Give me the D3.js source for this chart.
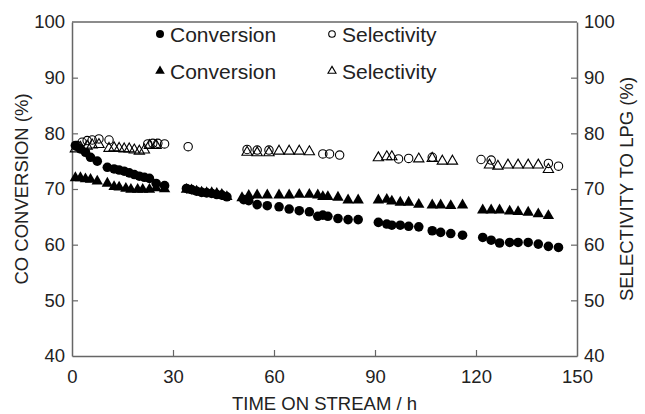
<!DOCTYPE html>
<html>
<head>
<meta charset="utf-8">
<script src="https://cdn.jsdelivr.net/npm/d3@7"></script>
<style>
  body { margin: 0; background: #fff; }
  text { font-family: "Liberation Sans", Arial, sans-serif; fill: #222; }
</style>
</head>
<body>
<svg id="chart"></svg>
<script>
var width = 645,
    height = 414,
    margin = {top: 22, right: 68, bottom: 58, left: 72};

// conversion, circles
var convCircleH = [1, 2.5, 4, 5.5, 7.5, 10.5, 12.5, 14, 15.5, 17, 18.5, 20, 21.5, 23, 25, 27.5,
  34, 35.5, 37, 38.5, 40, 41.5, 43, 44.5, 46, 51, 52.5, 55, 58, 61.5, 64.5, 67.5, 70.5, 73, 74.5,
  76, 79, 82, 85, 91, 93.5, 95, 97.5, 100, 103, 107, 109.5, 112.5, 116, 122, 124.5, 127, 130,
  132.5, 135.5, 138.5, 141.5, 144.5];
var convCircleV = [77.8, 77.2, 76.6, 75.7, 75.0, 73.9, 73.6, 73.4, 73.2, 72.9, 72.6, 72.3, 72.1, 71.9, 71.0, 70.6,
  70.1, 69.9, 69.6, 69.4, 69.3, 69.2, 69.0, 68.9, 68.6, 68.1, 67.9, 67.2, 67.0, 66.8, 66.4, 66.1, 65.9, 65.1, 65.3,
  65.1, 64.7, 64.5, 64.5, 64.0, 63.7, 63.5, 63.5, 63.3, 63.2, 62.5, 62.2, 62.0, 61.7, 61.3, 60.8, 60.3, 60.4,
  60.4, 60.4, 60.1, 59.7, 59.5];

// conversion, triangles
var convTriH = [1, 2.5, 4, 5.5, 7.5, 10.5, 12.5, 14, 16, 17.5, 19.5, 21, 23, 25, 27.5,
  34, 35.5, 37, 38.5, 40, 41.5, 43, 44.5, 46, 50.5, 52.5, 55, 58, 61.5, 64.5, 67.5, 70.5, 73, 74.5,
  76, 79, 82, 85, 91, 93.5, 95, 97.5, 100, 103, 107, 109.5, 112.5, 116, 122, 124.5, 127, 130,
  132.5, 135.5, 138.5, 141.5];
var convTriV = [72.0, 72.0, 71.8, 71.7, 71.4, 71.0, 70.4, 70.3, 70.1, 69.9, 69.9, 69.9, 69.9, 70.2, 70.0,
  69.9, 69.8, 69.6, 69.4, 69.3, 69.3, 69.2, 69.0, 68.6, 68.4, 68.8, 68.9, 68.9, 68.9, 68.9, 69.0, 69.0, 68.9, 68.6,
  68.6, 68.5, 68.0, 68.0, 68.0, 68.1, 67.8, 67.6, 67.6, 67.2, 67.1, 67.1, 67.0, 67.1, 66.2, 66.2, 66.2, 66.0,
  65.9, 65.8, 65.5, 65.2];

// selectivity, open circles
var selCircleH = [1.5, 3, 4.5, 6, 8, 11, 22.5, 24, 25.5, 27.5, 34.5, 52, 55, 58.5, 74.5, 76.5, 79.5,
  97, 100, 107, 121.5, 124.5, 141.5, 144.5];
var selCircleV = [77.8, 78.4, 78.7, 78.8, 79.0, 78.8, 78.1, 78.2, 78.2, 78.1, 77.6, 77.1, 77.0, 77.0, 76.3, 76.3, 76.1,
  75.4, 75.5, 75.7, 75.3, 75.2, 74.6, 74.1];

// selectivity, open triangles
var selTriH = [1, 2.5, 4.5, 6, 8, 11, 12.5, 14, 15.5, 17, 18.5, 20, 21.5, 23, 25, 52, 55, 58.5, 61.5,
  64.5, 67.5, 70.5, 91, 93.5, 95, 103, 107, 110, 113, 124, 126.5, 129.5, 132.5, 135.5, 138.5, 141.5];
var selTriV = [77.2, 77.5, 77.7, 77.9, 78.0, 77.3, 77.4, 77.3, 77.2, 77.2, 77.0, 76.8, 77.0, 77.8, 77.8, 76.6, 76.5, 76.5, 76.8,
  76.8, 76.8, 76.7, 75.6, 75.8, 75.8, 75.4, 75.5, 75.0, 75.0, 74.3, 74.1, 74.3, 74.3, 74.3, 74.3, 73.5];

var xTicks = [0, 30, 60, 90, 120, 150],
    yTicks = [40, 50, 60, 70, 80, 90, 100];

var svg = d3.select('#chart')
  .attr('width', width)
  .attr('height', height);

var x = d3.scaleLinear().domain([0, 150]).range([margin.left, width - margin.right]),
    y = d3.scaleLinear().domain([40, 100]).range([height - margin.bottom, margin.top]),
    y2 = d3.scaleLinear().domain([40, 100]).range([height - margin.bottom, margin.top]);

var axisColor = '#666';

// axes, ticks pointing inward
var gx = svg.append('g')
  .attr('transform', 'translate(0,' + (height - margin.bottom) + ')')
  .call(d3.axisBottom(x).tickValues(xTicks).tickSizeInner(-6).tickSizeOuter(0).tickPadding(14));
var gy = svg.append('g')
  .attr('transform', 'translate(' + margin.left + ',0)')
  .call(d3.axisLeft(y).tickValues(yTicks).tickSizeInner(-6).tickSizeOuter(0).tickPadding(7));
var gy2 = svg.append('g')
  .attr('transform', 'translate(' + (width - margin.right) + ',0)')
  .call(d3.axisRight(y2).tickValues(yTicks).tickSizeInner(-6).tickSizeOuter(0).tickPadding(7));

[gx, gy, gy2].forEach(function(g) {
  g.select('.domain').attr('stroke', axisColor).attr('stroke-width', 1.5);
  g.selectAll('.tick line').attr('stroke', axisColor).attr('stroke-width', 1.2);
  g.selectAll('.tick text').attr('font-size', 18.5).style('fill', '#222');
  g.selectAll('.tick').filter(function(d) { return d === 40 || d === 100 || d === 0 || d === 150; })
    .select('line').remove();
});

// top frame line
svg.append('line')
  .attr('x1', x(0)).attr('x2', x(150))
  .attr('y1', y(100)).attr('y2', y(100))
  .attr('stroke', axisColor).attr('stroke-width', 1.5);

// titles
svg.append('text')
  .attr('x', (x(0) + x(150)) / 2)
  .attr('y', height - 4)
  .attr('text-anchor', 'middle')
  .attr('font-size', 18.5)
  .text('TIME ON STREAM / h');

svg.append('text')
  .attr('transform', 'translate(28,' + y(70) + ') rotate(-90)')
  .attr('text-anchor', 'middle')
  .attr('font-size', 18.5)
  .text('CO CONVERSION (%)');

svg.append('text')
  .attr('transform', 'translate(633,' + y(70) + ') rotate(-90)')
  .attr('text-anchor', 'middle')
  .attr('font-size', 18.5)
  .text('SELECTIVITY TO LPG (%)');

var tri = d3.symbol().type(d3.symbolTriangle);

function zip(hs, vs) {
  return hs.map(function(h, i) { return [h, vs[i]]; });
}

// data marks
svg.append('g').selectAll('circle')
  .data(zip(selCircleH, selCircleV))
  .enter().append('circle')
  .attr('cx', function(d) { return x(d[0]); })
  .attr('cy', function(d) { return y2(d[1]); })
  .attr('r', 4.2)
  .attr('fill', 'none')
  .attr('stroke', '#000')
  .attr('stroke-width', 1.1);

svg.append('g').selectAll('path')
  .data(zip(selTriH, selTriV))
  .enter().append('path')
  .attr('d', tri.size(46))
  .attr('transform', function(d) { return 'translate(' + x(d[0]) + ',' + y2(d[1]) + ')'; })
  .attr('fill', 'none')
  .attr('stroke', '#000')
  .attr('stroke-width', 1.1);

svg.append('g').selectAll('circle')
  .data(zip(convCircleH, convCircleV))
  .enter().append('circle')
  .attr('cx', function(d) { return x(d[0]); })
  .attr('cy', function(d) { return y(d[1]); })
  .attr('r', 4.8)
  .attr('fill', '#000');

svg.append('g').selectAll('path')
  .data(zip(convTriH, convTriV))
  .enter().append('path')
  .attr('d', tri.size(56))
  .attr('transform', function(d) { return 'translate(' + x(d[0]) + ',' + y(d[1]) + ')'; })
  .attr('fill', '#000');

// legend
var legend = svg.append('g');
legend.append('circle').attr('cx', 160).attr('cy', 34).attr('r', 4).attr('fill', '#000');
legend.append('circle').attr('cx', 332).attr('cy', 34).attr('r', 3.3)
  .attr('fill', 'none').attr('stroke', '#000').attr('stroke-width', 1.1);
legend.append('path').attr('d', tri.size(40)).attr('transform', 'translate(160,71)').attr('fill', '#000');
legend.append('path').attr('d', tri.size(28)).attr('transform', 'translate(332,71)')
  .attr('fill', 'none').attr('stroke', '#000').attr('stroke-width', 1.1);

[['Conversion', 170, 34], ['Selectivity', 342, 34], ['Conversion', 170, 71], ['Selectivity', 342, 71]]
  .forEach(function(l) {
    legend.append('text')
      .attr('x', l[1]).attr('y', l[2])
      .attr('dy', '0.36em')
      .attr('font-size', 21)
      .text(l[0]);
  });
</script>
</body>
</html>
